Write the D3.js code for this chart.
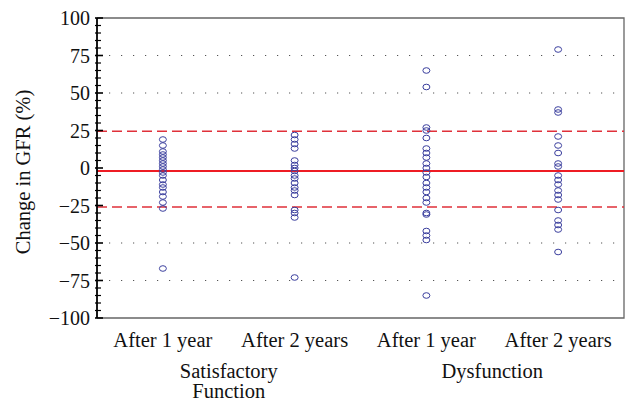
<!DOCTYPE html>
<html>
<head>
<meta charset="utf-8">
<script src="https://cdn.jsdelivr.net/npm/d3@7"></script>
<style>
  body { margin: 0; background: #fff; }
  text { font-family: "Liberation Serif", "DejaVu Serif", serif; fill: #111; }
</style>
</head>
<body>
<div class="chart"></div>
<script>
// groups shown along the x axis
var categories = ["S1", "S2", "D1", "D2"];
var categoryLabels = ["After 1 year", "After 2 years", "After 1 year", "After 2 years"];
var groupLabels = [["Satisfactory", "Function"], ["Dysfunction"]];

// change in GFR (%) per patient
var satisfactory1 = [19, 15, 11, 9, 7, 5, 3, 1, -1, -3, -5, -8, -11, -13, -16, -19, -23, -27, -67];
var satisfactory2 = [22, 19, 16, 13, 5, 2, 0, -2, -5, -7, -10, -13, -15, -18, -28, -30, -33, -73];
var dysfunction1 = [65, 54, 27, 25, 20, 13, 10, 7, 3, 0, -3, -6, -10, -13, -16, -20, -23, -30, -31, -42, -45, -48, -85];
var dysfunction2 = [79, 39, 37, 21, 15, 10, 3, 1, -5, -8, -11, -15, -18, -21, -28, -35, -38, -41, -56];

var meanLine = -2;
var limitLines = [24.5, -26];
var gridValues = [75, 50, -50, -75];
var yTicks = [100, 75, 50, 25, 0, -25, -50, -75, -100];

var seriesData = [satisfactory1, satisfactory2, dysfunction1, dysfunction2];

var W = 627, H = 402;
var margin = {left: 97, right: 3, top: 18, bottom: 84};
var w = W - margin.left - margin.right;
var h = H - margin.top - margin.bottom;

var x_scale = d3.scaleBand().domain(categories).range([0, w]);
var y_scale = d3.scaleLinear().domain([-100, 100]).range([h, 0]);

var svg = d3.select(".chart").append("svg")
    .attr("width", W)
    .attr("height", H);

var graph = svg.append("g")
    .attr("transform", "translate(" + margin.left + "," + margin.top + ")");

// dotted grid
graph.selectAll(".grid").data(gridValues).enter().append("line")
    .attr("x1", 12).attr("x2", w)
    .attr("y1", function(d) { return y_scale(d); })
    .attr("y2", function(d) { return y_scale(d); })
    .attr("stroke", "#555")
    .attr("stroke-width", 1.2)
    .attr("stroke-dasharray", "1.2,10.8");

// frame
graph.append("path")
    .attr("d", "M0,0H" + w + "V" + h + "H0")
    .attr("fill", "none")
    .attr("stroke", "#666")
    .attr("stroke-width", 1.3);

// limit lines
graph.selectAll(".limit").data(limitLines).enter().append("line")
    .attr("x1", 0).attr("x2", w)
    .attr("y1", function(d) { return y_scale(d); })
    .attr("y2", function(d) { return y_scale(d); })
    .attr("stroke", "#e0303a")
    .attr("stroke-width", 1.3)
    .attr("stroke-dasharray", "10,5");

// mean line
graph.append("line")
    .attr("x1", 0).attr("x2", w)
    .attr("y1", y_scale(meanLine)).attr("y2", y_scale(meanLine))
    .attr("stroke", "#ee1c24")
    .attr("stroke-width", 2.2);

// points
seriesData.forEach(function(vals, i) {
    var cx = x_scale(categories[i]) + x_scale.bandwidth() / 2;
    graph.selectAll(".pt" + i).data(vals).enter().append("ellipse")
        .attr("cx", cx)
        .attr("cy", function(d) { return y_scale(d); })
        .attr("rx", 3.5)
        .attr("ry", 2.8)
        .attr("fill", "none")
        .attr("stroke", "#3b3f9e")
        .attr("stroke-width", 1);
});

// y axis with minor ticks every 5
var minor = d3.range(-100, 101, 5);
graph.selectAll(".minor").data(minor).enter().append("line")
    .attr("x1", -2)
    .attr("x2", function(d) { return d % 25 === 0 ? 6 : 4; })
    .attr("y1", function(d) { return y_scale(d); })
    .attr("y2", function(d) { return y_scale(d); })
    .attr("stroke", "#000")
    .attr("stroke-width", function(d) { return d % 25 === 0 ? 1.6 : 1.2; });

graph.append("line")
    .attr("x1", 0).attr("x2", 0)
    .attr("y1", 0).attr("y2", h)
    .attr("stroke", "#000")
    .attr("stroke-width", 1.8);

graph.selectAll(".ylab").data(yTicks).enter().append("text")
    .attr("x", -7)
    .attr("y", function(d) { return y_scale(d); })
    .attr("dy", "0.35em")
    .attr("text-anchor", "end")
    .style("font-size", "20px")
    .text(function(d) { return d < 0 ? "\u2212" + (-d) : d; });

svg.append("text")
    .attr("transform", "translate(30," + (margin.top + h / 2 + 4) + ") rotate(-90)")
    .attr("text-anchor", "middle")
    .style("font-size", "20.5px")
    .text("Change in GFR (%)");

// x labels
graph.selectAll(".xlab").data(categories).enter().append("text")
    .attr("x", function(d) { return x_scale(d) + x_scale.bandwidth() / 2; })
    .attr("y", h + 29)
    .attr("text-anchor", "middle")
    .style("font-size", "20.5px")
    .text(function(d, i) { return categoryLabels[i]; });

groupLabels.forEach(function(lines, g) {
    var cx = x_scale(categories[g * 2 + 1]);
    lines.forEach(function(t, j) {
        graph.append("text")
            .attr("x", cx)
            .attr("y", h + 60 + j * 20)
            .attr("text-anchor", "middle")
            .style("font-size", "20.5px")
            .text(t);
    });
});
</script>
</body>
</html>
